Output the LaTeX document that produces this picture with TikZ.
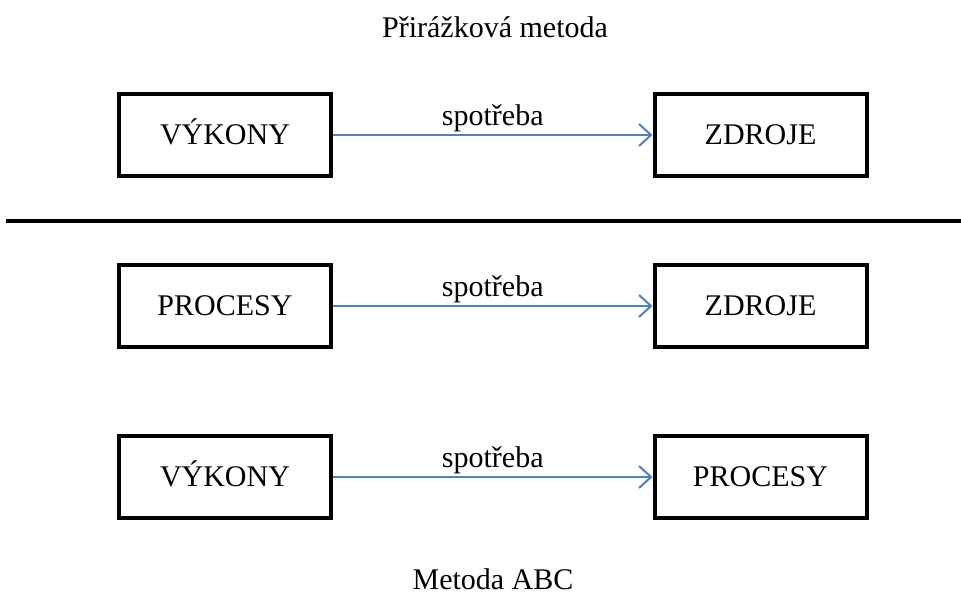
\documentclass[tikz,border=0pt]{standalone}
\usepackage{fontspec}
\setmainfont{Liberation Serif}
\usetikzlibrary{arrows.meta}
\definecolor{arrowblue}{RGB}{79,129,189}
\tikzset{
  box/.style={draw=black, line width=4pt, minimum width=212pt, minimum height=82pt,
    inner sep=0pt, text height=20pt, text depth=0pt, font=\fontsize{30}{36}\selectfont},
  flow/.style={draw=arrowblue, line width=2pt,
    -{Straight Barb[length=12pt,width=22pt,line width=2pt]}},
  lbl/.style={font=\fontsize{30}{36}\selectfont, inner sep=0pt},
  sep/.style={line width=4pt}
}
\begin{document}
\begin{tikzpicture}[x=1pt,y=1pt]
\useasboundingbox (0,0) rectangle (961,596);
\node[lbl, anchor=base] (title) at (495,558) {Přirážková metoda};
\node[lbl, anchor=base] (abc) at (493,6) {Metoda ABC};

\node[box] (v1) at (225,461) {VÝKONY};
\node[box] (z1) at (760.5,461) {ZDROJE};
\draw[flow] (v1.east) -- node[lbl, anchor=base, yshift=9pt] (s1) {spotřeba} (z1.west);

\coordinate (lineL) at (6,375);
\coordinate (lineR) at (961,375);
\draw[sep] (lineL) -- (lineR);

\node[box] (p2) at (225,290) {PROCESY};
\node[box] (z2) at (760.5,290) {ZDROJE};
\draw[flow] (p2.east) -- node[lbl, anchor=base, yshift=9pt] (s2) {spotřeba} (z2.west);

\node[box] (v3) at (225,119) {VÝKONY};
\node[box] (p3) at (760.5,119) {PROCESY};
\draw[flow] (v3.east) -- node[lbl, anchor=base, yshift=9pt] (s3) {spotřeba} (p3.west);
\end{tikzpicture}
\end{document}
